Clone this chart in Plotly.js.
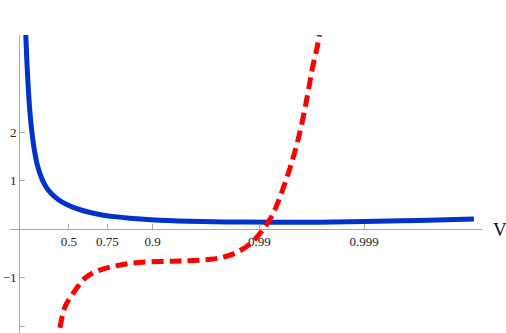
<!DOCTYPE html>
<html><head><meta charset="utf-8">
<script src="https://cdn.plot.ly/plotly-3.0.1.min.js"></script>
<style>html,body{margin:0;padding:0;background:#fff}</style>
</head><body><div id="chart" style="width:506px;height:333px"></div>
<script>
// x is plotted on a rapidity scale: u = atanh(V)
const blueRapidity = [0.068, 0.074, 0.085, 0.100, 0.120, 0.140, 0.165, 0.200, 0.250, 0.300, 0.360, 0.430, 0.520, 0.620, 0.750, 0.900, 1.050, 1.220, 1.450, 1.700, 2.000, 2.500, 2.900, 3.300, 3.800, 4.400, 5.011];
const blueValues   = [4.35, 4.0, 3.5, 2.95, 2.40, 2.02, 1.67, 1.33, 1.04, 0.86, 0.72, 0.61, 0.51, 0.43, 0.355, 0.295, 0.255, 0.222, 0.19, 0.17, 0.155, 0.142, 0.138, 0.14, 0.155, 0.178, 0.206];

const redRapidity = [0.420, 0.440, 0.507, 0.598, 0.727, 0.856, 1.039, 1.259, 1.553, 1.795, 1.982, 2.100, 2.200, 2.300, 2.400, 2.500, 2.600, 2.691, 2.780, 2.856, 2.985, 3.087, 3.175, 3.235, 3.290, 3.315];
const redValues   = [-2.4, -2.14, -1.6, -1.32, -1.01, -0.87, -0.77, -0.70, -0.67, -0.66, -0.645, -0.625, -0.60, -0.555, -0.48, -0.37, -0.21, 0, 0.25, 0.57, 1.26, 1.94, 2.73, 3.35, 3.8, 4.1];

const xTickV = [0.5, 0.75, 0.9, 0.99, 0.999];
const xTickLabels = ['0.5', '0.75', '0.9', '0.99', '0.999'];
const yTickVals = [-2, -1, 1, 2];
const yTickLabels = ['\u22122', '\u22121', '1', '2'];
const xRange = [-0.1, 5.1];
const yRange = [-2.144, 4.0];

const axisColor = '#a6a6a6';
const tickFont = {family: 'Liberation Serif', size: 13, color: '#222'};

const traces = [
  {x: blueRapidity, y: blueValues, type: 'scatter', mode: 'lines',
   line: {color: '#0033cc', width: 5, shape: 'spline', smoothing: 1}, hoverinfo: 'skip'},
  {x: redRapidity, y: redValues, type: 'scatter', mode: 'lines',
   line: {color: '#ff0000', width: 5, shape: 'spline', smoothing: 1, dash: '12px,6px'}, hoverinfo: 'skip'}
];

const layout = {
  width: 506, height: 333,
  margin: {l: 10, r: 24, t: 35, b: 0},
  paper_bgcolor: '#fff', plot_bgcolor: '#fff',
  showlegend: false,
  xaxis: {
    range: xRange, anchor: 'free',
    position: (0 - yRange[0]) / (yRange[1] - yRange[0]),
    showline: true, linecolor: axisColor, linewidth: 1,
    ticks: 'inside', ticklen: 5, tickcolor: axisColor, tickwidth: 1,
    tickmode: 'array', tickvals: xTickV.map(v => Math.atanh(v)), ticktext: xTickLabels,
    tickfont: tickFont, showgrid: false, zeroline: false
  },
  yaxis: {
    range: yRange, anchor: 'free',
    position: (0 - xRange[0]) / (xRange[1] - xRange[0]),
    showline: true, linecolor: axisColor, linewidth: 1,
    ticks: 'inside', ticklen: 5, tickcolor: axisColor, tickwidth: 1,
    tickmode: 'array', tickvals: yTickVals, ticktext: yTickLabels,
    tickfont: tickFont, showgrid: false, zeroline: false
  },
  annotations: [{
    x: xRange[1], y: 0, xref: 'x', yref: 'y', xanchor: 'left', yanchor: 'middle',
    xshift: 9, text: 'V', showarrow: false,
    font: {family: 'Liberation Serif', size: 19, color: '#111'}
  }]
};

Plotly.newPlot('chart', traces, layout, {staticPlot: true, displayModeBar: false});
</script>
</body></html>
